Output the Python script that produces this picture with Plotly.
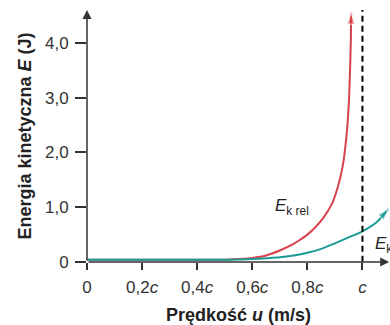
import plotly.graph_objects as go

# Relativistic kinetic energy (red)
u_rel = [0, 0.1, 0.2, 0.3, 0.4, 0.5, 0.55, 0.6, 0.65, 0.7, 0.75, 0.775, 0.8, 0.83, 0.86, 0.89, 0.91, 0.928, 0.942, 0.95, 0.955, 0.958, 0.959]
E_rel = [0.04, 0.04, 0.04, 0.04, 0.04, 0.042, 0.055, 0.075, 0.12, 0.21, 0.33, 0.41, 0.5, 0.64, 0.82, 1.07, 1.36, 1.74, 2.3, 2.85, 3.5, 4.1, 4.55]

# Classical kinetic energy (teal)
u_cl = [0, 0.1, 0.2, 0.3, 0.4, 0.5, 0.55, 0.6, 0.65, 0.7, 0.75, 0.8, 0.85, 0.9, 0.95, 1.0, 1.05, 1.095]
E_cl = [0.04, 0.04, 0.04, 0.04, 0.04, 0.042, 0.045, 0.055, 0.068, 0.085, 0.12, 0.17, 0.24, 0.34, 0.45, 0.56, 0.72, 0.97]

x_tickvals = [0, 0.2, 0.4, 0.6, 0.8, 1.0]
x_ticktext = ["0", "0,2<i>c</i>", "0,4<i>c</i>", "0,6<i>c</i>", "0,8<i>c</i>", "<i>c</i>"]
y_tickvals = [0, 1, 2, 3, 4]
y_ticktext = ["0", "1,0", "2,0", "3,0", "4,0"]

RED = "#d7424b"
TEAL = "#1a9b96"
AX = "#333333"
FONT = "Liberation Sans, Arial, sans-serif"

XMAX = 1.10
YMAX = 4.6

fig = go.Figure()

def arrow_sizes(n, s):
    return [0] * (n - 1) + [s]

fig.add_trace(go.Scatter(
    x=u_rel, y=E_rel, mode="lines+markers",
    line=dict(color=RED, width=2, shape="spline", smoothing=0.8),
    marker=dict(symbol="arrow", angleref="previous", size=arrow_sizes(len(u_rel), 12), color=RED),
    cliponaxis=False, hoverinfo="skip", showlegend=False))

fig.add_trace(go.Scatter(
    x=u_cl, y=E_cl, mode="lines+markers",
    line=dict(color=TEAL, width=2, shape="spline", smoothing=0.8),
    marker=dict(symbol="arrow", angleref="previous", size=arrow_sizes(len(u_cl), 12), color=TEAL),
    cliponaxis=False, hoverinfo="skip", showlegend=False))

# dashed line at u = c
fig.add_shape(type="line", xref="x", yref="y", x0=1.0, x1=1.0, y0=-0.18, y1=YMAX,
              line=dict(color="black", width=2, dash="6px,4px"))

# axis arrows
fig.add_annotation(x=0, y=YMAX, ax=0, ay=0, xref="x", yref="y", axref="x", ayref="y",
                   text="", showarrow=True, arrowhead=2, arrowsize=1.2, arrowwidth=1.5,
                   arrowcolor=AX, standoff=0, startstandoff=0)
fig.add_annotation(x=1.097, y=0, ax=0, ay=0, xref="x", yref="y", axref="x", ayref="y",
                   text="", showarrow=True, arrowhead=2, arrowsize=1.2, arrowwidth=1.5,
                   arrowcolor=AX, standoff=0, startstandoff=0)

# curve labels
fig.add_annotation(x=0.675, y=1.0, xref="x", yref="y", xanchor="left", yanchor="middle",
                   text="<i>E</i><sub>k rel</sub>", showarrow=False,
                   font=dict(family=FONT, size=17, color="#222"))
fig.add_annotation(x=1.04, y=0.31, xref="x", yref="y", xanchor="left", yanchor="middle",
                   text="<i>E</i><sub>k klas</sub>", showarrow=False,
                   font=dict(family=FONT, size=17, color="#222"))

fig.update_layout(
    width=390, height=325,
    margin=dict(l=87, r=0, t=10, b=63),
    paper_bgcolor="white", plot_bgcolor="white",
    font=dict(family=FONT, size=17, color=AX),
    xaxis=dict(range=[0, XMAX], showgrid=False, zeroline=False, showline=False, automargin=False,
               tickvals=x_tickvals, ticktext=x_ticktext, ticks="outside", ticklen=7,
               ticklabelstandoff=3,
               tickwidth=1.5, tickcolor=AX, tickfont=dict(size=17, color=AX),
               title=dict(text="<b>Prędkość <i>u</i> (m/s)</b>", font=dict(size=18, color="#222"), standoff=14)),
    yaxis=dict(range=[0, YMAX], showgrid=False, zeroline=False, showline=False, automargin=False,
               tickvals=y_tickvals, ticktext=y_ticktext, ticks="outside", ticklen=11,
               ticklabelstandoff=3,
               tickwidth=1.5, tickcolor=AX, tickfont=dict(size=17, color=AX),
               title=dict(text="<b>Energia kinetyczna <i>E</i> (J)</b>", font=dict(size=18, color="#222"), standoff=8)),
)

fig.write_html("out.html", config={"displayModeBar": False},
               post_script="document.body.style.margin='0';document.body.style.overflow='hidden';")
